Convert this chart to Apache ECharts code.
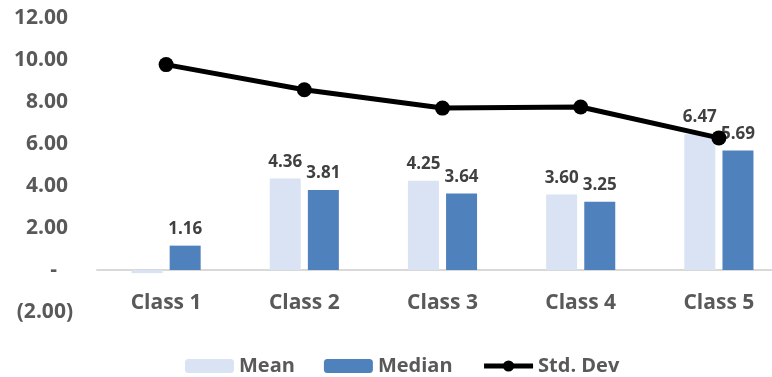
<!DOCTYPE html>
<html>
<head>
<meta charset="utf-8">
<script src="https://cdn.jsdelivr.net/npm/echarts@6/dist/echarts.min.js"></script>
<style>
  html, body { margin: 0; padding: 0; background: #fff; }
  #chart { width: 772px; height: 377px; }
</style>
</head>
<body>
<div id="chart"></div>
<script>
// 数据
var categories = ['Class 1', 'Class 2', 'Class 3', 'Class 4', 'Class 5'];
var meanValues = [-0.15, 4.36, 4.25, 3.60, 6.47];
var medianValues = [1.16, 3.81, 3.64, 3.25, 5.69];
var stdDevValues = [9.78, 8.58, 7.71, 7.76, 6.29];

var font = '"Open Sans", "Noto Sans", sans-serif';
var grey = '#595959';

// 会计格式的纵轴标签
function fmtAxis(v) {
    if (v === 0) return '{dash|-}';
    if (v < 0) return '{neg|(' + Math.abs(v).toFixed(2) + ')}';
    return '{pos|' + v.toFixed(2) + '}';
}

var chart = echarts.init(document.getElementById('chart'));

var option = {
    animation: false,
    grid: { left: 97, right: -16, top: 18, bottom: 65, containLabel: false, outerBoundsMode: 'none' },
    legend: {
        top: 351,
        left: 180,
        itemWidth: 49,
        itemHeight: 14,
        itemGap: 29,
        textStyle: { fontFamily: font, fontWeight: 'bold', fontSize: 20, color: grey },
        data: ['Mean', 'Median', { name: 'Std. Dev', lineStyle: { width: 5 } }]
    },
    xAxis: {
        type: 'category',
        data: categories,
        axisLine: { onZero: true, lineStyle: { color: '#d9d9d9', width: 2 } },
        axisTick: { show: false },
        axisLabel: { fontFamily: font, fontWeight: 'bold', fontSize: 21, color: grey, margin: -19 }
    },
    yAxis: {
        type: 'value',
        min: -2,
        max: 12,
        interval: 2,
        axisLine: { show: false },
        axisTick: { show: false },
        splitLine: { show: false },
        axisLabel: {
            margin: 24,
            formatter: fmtAxis,
            rich: {
                pos: { fontFamily: font, fontWeight: 'bold', fontSize: 21, color: grey, padding: [0, 5, 0, 0] },
                neg: { fontFamily: font, fontWeight: 'bold', fontSize: 21, color: grey },
                dash: { fontFamily: font, fontWeight: 'bold', fontSize: 21, color: grey, padding: [0, 16, 0, 0] }
            }
        }
    },
    series: [
        {
            name: 'Mean',
            type: 'bar',
            barWidth: 31,
            barGap: '23%',
            itemStyle: { color: '#dae3f3' },
            label: {
                show: true, position: 'top', distance: 8,
                fontFamily: font, fontWeight: 'bold', fontSize: 17, color: '#404040',
                formatter: function (p) { return p.value < 0 ? '' : p.value.toFixed(2); }
            },
            data: meanValues
        },
        {
            name: 'Median',
            type: 'bar',
            barWidth: 31,
            itemStyle: { color: '#4f81bd' },
            label: {
                show: true, position: 'top', distance: 8,
                fontFamily: font, fontWeight: 'bold', fontSize: 17, color: '#404040',
                formatter: function (p) { return p.value.toFixed(2); }
            },
            data: medianValues
        },
        {
            name: 'Std. Dev',
            type: 'line',
            symbol: 'circle',
            symbolSize: 15,
            itemStyle: { color: '#000' },
            lineStyle: { color: '#000', width: 5 },
            data: stdDevValues
        }
    ]
};

chart.setOption(option);
</script>
</body>
</html>
